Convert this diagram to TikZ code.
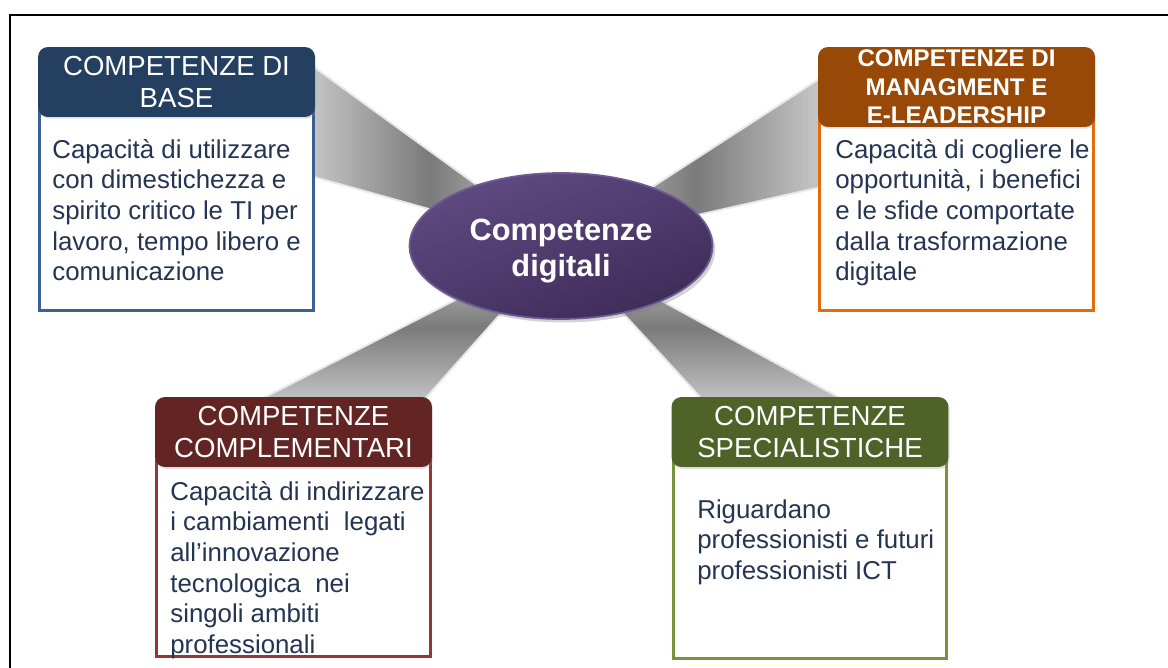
\documentclass[tikz,border=0pt]{standalone}
\usepackage{fontspec}
\setmainfont{Liberation Sans}
\usetikzlibrary{shapes.geometric,shadows,calc}
\definecolor{baseH}{HTML}{243F60}
\definecolor{baseB}{HTML}{3A6193}
\definecolor{mgmtH}{HTML}{984807}
\definecolor{mgmtB}{HTML}{E46C0A}
\definecolor{compH}{HTML}{632523}
\definecolor{compB}{HTML}{953735}
\definecolor{specH}{HTML}{4F6228}
\definecolor{specB}{HTML}{77933C}
\definecolor{txt}{HTML}{243452}
\definecolor{purA}{HTML}{604A82}
\definecolor{purB}{HTML}{3E2C58}
\definecolor{purE}{HTML}{6E5A95}
\newcommand\drawray[3]{%
  \foreach \i in {0,...,59}{%
    \pgfmathsetmacro\ta{\i/60}%
    \pgfmathsetmacro\tb{(\i+1.6)/60}%
    \pgfmathsetmacro\tm{(\i+0.5)/60}%
    \pgfmathsetmacro\p{\tm<0.5 ? 52-34*(0.5-\tm)/0.5 : 52-32*(\tm-0.5)/0.5}%
    \fill[black!\p] ($(#1)!\ta!(#2)$) -- ($(#1)!\tb!(#2)$) -- ($(#1)!\tb!(#3)$) -- ($(#1)!\ta!(#3)$) -- cycle;
  }%
  \draw[rayedge] (#2) -- (#1) -- (#3);%
}
\begin{document}
\begin{tikzpicture}[x=0.02cm,y=-0.02cm,
  hdr/.style={rounded corners=0.2cm, minimum width=5.54cm, inner sep=0pt, text=white, align=center,
    font=\fontsize{15.7}{18.3}\selectfont,
    drop shadow={opacity=0.25, shadow xshift=0.6pt, shadow yshift=-1pt}},
  bodybox/.style={draw=#1, fill=white, line width=1.7pt, minimum width=5.48cm, inner sep=0pt},
  bodytxt/.style={anchor=north west, inner sep=0pt, align=left, text=txt,
    font=\fontsize{14.7}{17.4}\selectfont},
  rayedge/.style={draw=gray!18, line width=1.1pt, line join=round}
]
\useasboundingbox (0,0) rectangle (1168,668);
\begin{scope}
\clip (0,0) rectangle (1168,668);
\draw[line width=1.1pt] (10,15) rectangle (1200,700);
\end{scope}

% centre and ray ends
\coordinate (ctr) at (561,246);
\coordinate (r1a) at (300,57);  \coordinate (r1b) at (300,173);
\coordinate (r2a) at (830,72);  \coordinate (r2b) at (830,185);
\coordinate (r3a) at (240,410); \coordinate (r3b) at (415,410);
\coordinate (r4a) at (712,410); \coordinate (r4b) at (862,410);

\drawray{ctr}{r1a}{r1b}
\drawray{ctr}{r2a}{r2b}
\drawray{ctr}{r3a}{r3b}
\drawray{ctr}{r4a}{r4b}

% central ellipse
\node[ellipse, minimum width=6.06cm, minimum height=2.92cm, draw=purE, line width=1pt,
  top color=purA, bottom color=purB, shading angle=20,
  drop shadow={opacity=0.35, shadow xshift=1.5pt, shadow yshift=-2pt}] (c) at (ctr) {};
\node[inner sep=0pt, align=center, text=white, font=\bfseries\fontsize{17.5}{21}\selectfont] (ct) at (561,251) {Competenze\\digitali};

% bodies
\node[bodybox=baseB, minimum height=4.01cm] (b1) at (176.5,210.25) {};
\node[bodybox=mgmtB, minimum height=3.81cm] (b2) at (956.5,215.25) {};
\node[bodybox=compB, minimum height=3.94cm] (b3) at (293.5,558.5) {};
\node[bodybox=specB, minimum height=3.97cm] (b4) at (810,559) {};

% headers
\node[hdr, fill=baseH, minimum height=1.4cm] (h1) at (176.5,82) {COMPETENZE DI\\BASE};
\node[hdr, fill=mgmtH, minimum height=1.6cm, font=\bfseries\fontsize{13.7}{16.3}\selectfont] (h2) at (956.5,87) {COMPETENZE DI\\MANAGMENT E\\E-LEADERSHIP};
\node[hdr, fill=compH, minimum height=1.4cm] (h3) at (293.5,432) {COMPETENZE\\COMPLEMENTARI};
\node[hdr, fill=specH, minimum height=1.4cm] (h4) at (810,432) {COMPETENZE\\SPECIALISTICHE};

% body texts
\node[bodytxt] (t1) at (52,139) {Capacità di utilizzare\\con dimestichezza e\\spirito critico le TI per\\lavoro, tempo libero e\\comunicazione};
\node[bodytxt] (t2) at (835,139) {Capacità di cogliere le\\opportunità, i benefici\\e le sfide comportate\\dalla trasformazione\\digitale};
\node[bodytxt] (t3) at (170,481) {Capacità di indirizzare\\i cambiamenti\ \ legati\\all’innovazione\\tecnologica\ \ nei\\singoli ambiti\\professionali};
\node[bodytxt] (t4) at (697,499) {Riguardano\\professionisti e futuri\\professionisti ICT};
\end{tikzpicture}
\end{document}
